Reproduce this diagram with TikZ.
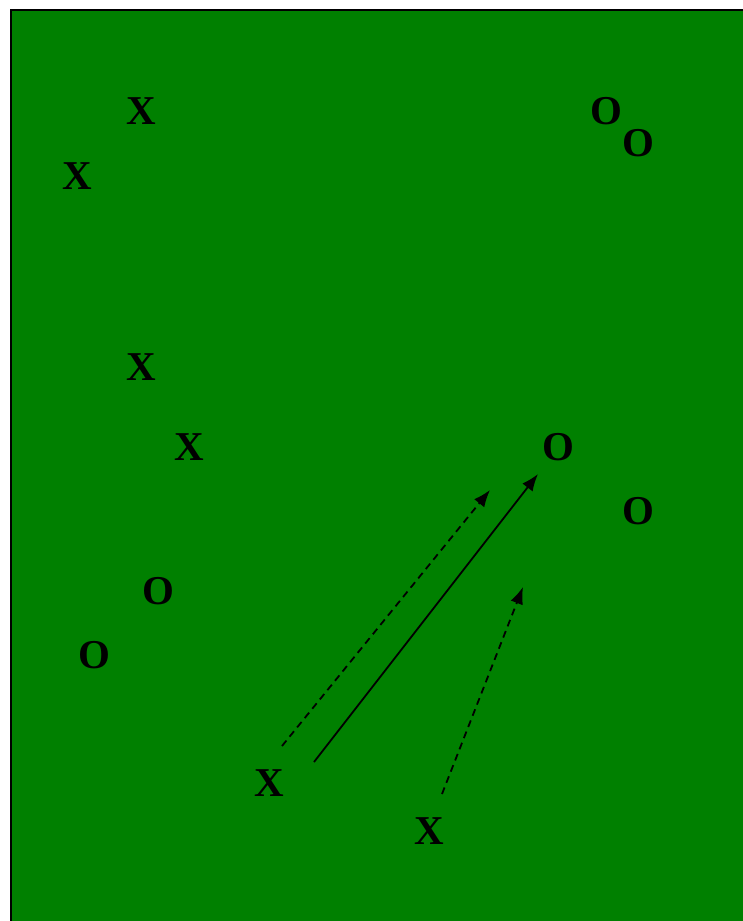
\documentclass[tikz,border=0pt]{standalone}
\usepackage{fontspec}
\setmainfont{Liberation Serif}
\usepackage{tikz}
\usetikzlibrary{arrows.meta}
\definecolor{fieldGreen}{HTML}{008000}
\tikzset{
  player/.style={inner sep=0pt, font=\fontsize{41}{48}\selectfont\bfseries, text=black},
  xplayer/.style={player},
  oplayer/.style={player},
  run/.style={-{Latex[length=17pt,width=13pt]}, line width=1.8pt, black},
  pass/.style={run, dash pattern=on 7pt off 5pt}
}
\begin{document}
\begin{tikzpicture}[x=1pt,y=-1pt]
  \useasboundingbox (0,0) rectangle (743,921);
  \begin{scope}
    \clip (0,0) rectangle (743,921);
    \draw[fill=fieldGreen, line width=2pt] (11,10) rectangle (760,940);
  \end{scope}
  % offence
  \node[xplayer] (x1) at (141,111) {X};
  \node[xplayer] (x2) at (77,176) {X};
  \node[xplayer] (x3) at (141,367) {X};
  \node[xplayer] (x4) at (189,447) {X};
  \node[xplayer] (x5) at (269,783) {X};
  \node[xplayer] (x6) at (429,831) {X};
  % defence
  \node[oplayer] (o1) at (606,111) {O};
  \node[oplayer] (o2) at (638,143) {O};
  \node[oplayer] (o3) at (558,447) {O};
  \node[oplayer] (o4) at (638,511) {O};
  \node[oplayer] (o5) at (158,591) {O};
  \node[oplayer] (o6) at (94,655) {O};
  % routes
  \coordinate (a1) at (282,746);
  \coordinate (b1) at (490,490);
  \coordinate (a2) at (314,762);
  \coordinate (b2) at (538,474);
  \coordinate (a3) at (442,794);
  \coordinate (b3) at (523,587);
  \draw[pass] (a1) -- (b1);
  \draw[run] (a2) -- (b2);
  \draw[pass] (a3) -- (b3);
\end{tikzpicture}
\end{document}
